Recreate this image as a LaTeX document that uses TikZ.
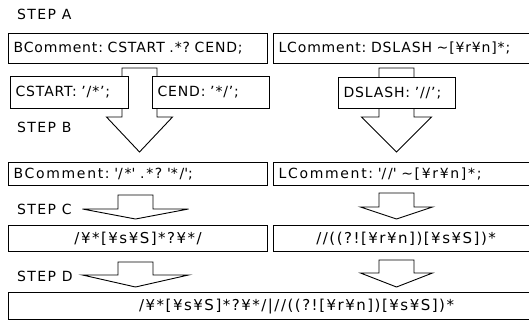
\documentclass[tikz,border=0pt]{standalone}
\usepackage{fontspec}
\setmainfont{DejaVu Sans}
\usepackage{tikz}
\frenchspacing

\begin{document}
\begin{tikzpicture}[x=1pt,y=-1pt,
		box/.style={draw, fill=white, line width=1.2pt, anchor=north west,
			inner xsep=5pt, inner ysep=0pt, font=\fontsize{14}{16}\selectfont\addfontfeature{LetterSpace=6}},
		wbox/.style={box, font=\fontsize{14}{16}\selectfont\addfontfeature{LetterSpace=12}},
		rxbox/.style={box, font=\fontsize{15}{17}\selectfont\addfontfeature{LetterSpace=10}},
		steplabel/.style={anchor=west, inner sep=0pt, font=\fontsize{14}{16}\selectfont\addfontfeature{LetterSpace=10}},
		blockarrow/.style={draw, fill=white, line width=0.9pt, line join=miter},
		]
		\useasboundingbox (0,0) rectangle (529,322);
		% block arrows: centre / top / base / tip / half shaft / half head
		\foreach \X/\T/\B/\P/\S/\H in {139.5/68/117/152/17.5/33, 396.5/68/117/152/17.5/35,
			135.5/195/209/219/17.5/53, 396.5/193/207/219/17.5/36,
			135.5/262/275/287/17.5/53, 396.5/260/273/287/17.5/36}{
			\draw[blockarrow] (\X-\S,\T) -- (\X+\S,\T) -- (\X+\S,\B) -- (\X+\H,\B)
				-- (\X,\P) -- (\X-\H,\B) -- (\X-\S,\B) -- cycle;
		}
		% step labels
		\node[steplabel] (stepA) at (17,14) {STEP A};
		\node[steplabel] (stepB) at (17,127) {STEP B};
		\node[steplabel] (stepC) at (17,209) {STEP C};
		\node[steplabel] (stepD) at (17,276) {STEP D};
		% step A
		\node[box, minimum height=30pt, text width=249pt, align=left] (bcA) at (8,33) {BComment: CSTART .*? CEND;};
		\node[box, minimum height=30pt, text width=248pt, align=left] (lcA) at (273,33) {LComment: DSLASH \textasciitilde[¥r¥n]*;};
		\node[box, minimum height=32pt, text width=108pt, align=left] (cstart) at (10,76) {CSTART: ’/*’;};
		\node[box, minimum height=32pt, text width=107pt, align=left] (cend) at (152,76) {CEND: ’*/’;};
		\node[box, minimum height=31pt, text width=107pt, align=left] (dslash) at (338,77) {DSLASH: ’//’;};
		% step B
		\node[wbox, minimum height=23pt, text width=249pt, align=left] (bcB) at (8,162)
			{BComment: \textquotesingle/*\textquotesingle{} .*? \textquotesingle*/\textquotesingle;};
		\node[wbox, minimum height=23pt, text width=248pt, align=left] (lcB) at (273,162)
			{LComment: \textquotesingle//\textquotesingle{} \textasciitilde[¥r¥n]*;};
		% step C
		\node[rxbox, minimum height=26pt, text width=249pt, align=center] (rxB) at (8,225) {/¥*[¥s¥S]*?¥*/};
		\node[rxbox, minimum height=26pt, text width=255pt, align=center] (rxL) at (273,225) {//((?![¥r¥n])[¥s¥S])*};
		% step D
		\node[rxbox, minimum height=27pt, text width=566pt, align=center] (rxAll) at (8,292) {/¥*[¥s¥S]*?¥*/|//((?![¥r¥n])[¥s¥S])*};
	\end{tikzpicture}
\end{document}
